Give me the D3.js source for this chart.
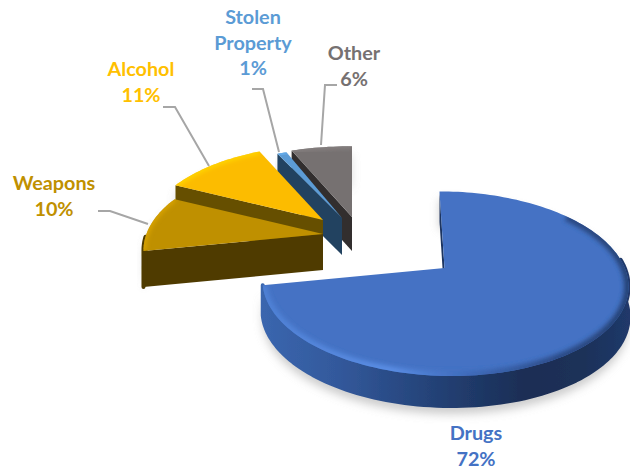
<!DOCTYPE html>
<html><head><meta charset="utf-8">
<script src="https://cdn.jsdelivr.net/npm/d3@7"></script>
<style>html,body{margin:0;padding:0;background:#fff}svg{display:block}</style>
</head><body><div id="c"></div>
<script>
// ---- data ----
const categories = ["Drugs","Weapons","Alcohol","Stolen Property","Other"];
const values = [72,10,11,1,6];
const labels = ["72%","10%","11%","1%","6%"];
// ---- style / layout ----
const topColors  = ["#4472C4","#BF9000","#FCBC00","#5B9BD5","#767171"];
const faceColors = ["#1C3461","#4F3B00","#665000","#234360","#302E2E"];
const rimColors  = ["url(#drugRim)","#4F3B00","#665000","#234360","#302E2E"];
const textColors = ["#4472C4","#BF9000","#FFC000","#5B9BD5","#767171"];
const apexX = [444.5,323,323,342,352];
const apexY = [268,234,220,218,217];
const radius= [0.985,0.965,0.96,0.9,0.91];
const widen = [1,1,1,1.07,1.14];
const depth = [30,36,38,37,34];
const W=630,H=468, k=0.17, lean=0.055, vanish=352;
const sx=d3.scaleLinear().domain([-1,1]).range([-183,183]);
const sy=d3.scaleLinear().domain([-1,1]).range([91,-91]);
const pieLayout=d3.pie().sort(null).value(d=>d)(values);

const svg=d3.select("#c").append("svg").attr("width",W).attr("height",H);
const defs=svg.append("defs");
[["soft",0.45],["blur2",2.2],["shadow",5]].forEach(([id,s])=>{
  defs.append("filter").attr("id",id).attr("x","-20%").attr("y","-20%").attr("width","140%").attr("height","140%")
    .append("feGaussianBlur").attr("stdDeviation",s);
});
function grad(id,x1,x2,stops){
  const g=defs.append("linearGradient").attr("id",id).attr("gradientUnits","userSpaceOnUse")
    .attr("x1",x1).attr("x2",x2).attr("y1",0).attr("y2",0);
  stops.forEach(([o,c])=>g.append("stop").attr("offset",o).attr("stop-color",c));
}
grad("drugRim",263,629,[[0,"#3A66AE"],[.2,"#33599C"],[.5,"#223F72"],[.72,"#1A2D54"],[.88,"#1B3159"],[1,"#20396A"]]);
grad("drugBevel",263,629,[[0,"#4F80D4"],[.35,"#5A8DE4"],[.55,"#3F6CBC"],[.8,"#2C4C88"],[1,"#274478"]]);

function P(i,theta,r,dz=0){
  const u=r*Math.sin(theta)*widen[i], v=r*Math.cos(theta), w=1+k*v;
  const s=radius[i], shear=lean*(apexX[i]-vanish)*v*-1*1.17;
  return [apexX[i]+s*(sx(u)+shear)/w, apexY[i]+s*sy(v)/w+dz];
}
const line=d3.line();
function arcPts(i,a0,a1,dz=0){
  const n=Math.max(4,Math.ceil((a1-a0)/0.03));
  return d3.range(n+1).map(j=>P(i,a0+(a1-a0)*j/n,1,dz));
}
function topPath(i){const p=pieLayout[i];return line([P(i,0,0),...arcPts(i,p.startAngle,p.endAngle)])+"Z";}
const frontLo=Math.PI*0.47, frontHi=Math.PI*1.49;
function rimPath(i){const p=pieLayout[i];
  const a0=Math.max(p.startAngle,frontLo), a1=Math.min(p.endAngle,frontHi);
  if(a1<=a0) return null;
  const a=arcPts(i,a0,a1), b=arcPts(i,a0,a1,depth[i]).reverse();
  return line([...a,...b])+"Z";}
function fullRim(i){const p=pieLayout[i];
  const a=arcPts(i,p.startAngle,p.endAngle), b=arcPts(i,p.startAngle,p.endAngle,depth[i]).reverse();
  return line([...a,...b])+"Z";}
function cutPath(i,ang){
  return line([P(i,0,0),P(i,ang,1),P(i,ang,1,depth[i]),P(i,0,0,depth[i])])+"Z";}

const g=svg.append("g").attr("filter","url(#soft)");
// painter's order: back slices first, Drugs last
[4,3,2,1,0].forEach(i=>{
  const p=pieLayout[i];
  g.append("path").attr("d",fullRim(i)).attr("transform","translate(0,8)")
    .attr("fill","#9a9a9a").attr("opacity",i===0?0.5:0.3).attr("filter","url(#shadow)");
  g.append("path").attr("d",cutPath(i,p.startAngle)).attr("fill",faceColors[i]);
  const rp=rimPath(i);
  if(rp) g.append("path").attr("d",rp).attr("fill",rimColors[i])
    .attr("stroke",rimColors[i]).attr("stroke-width",4).attr("stroke-linejoin","round");
  g.append("path").attr("d",topPath(i)).attr("fill",topColors[i]);
  defs.append("clipPath").attr("id","clip"+i).append("path").attr("d",topPath(i));
  const bevel=d3.color(topColors[i]).brighter(0.35).formatHex();
  const bevelStart=i===0?Math.PI*0.28:p.startAngle;
  g.append("g").attr("clip-path",`url(#clip${i})`)
   .append("path").attr("d",line(arcPts(i,bevelStart,p.endAngle)))
    .attr("fill","none").attr("stroke",i===0?"url(#drugBevel)":bevel)
    .attr("stroke-width",i===0?9:5).attr("filter","url(#blur2)");
});

// leader lines
const leaderGeom=[
  null,
  [[98,211],[110,211],[148,224]],
  [[163,107],[175,107],[209,166]],
  [[252,89],[263,89],[279,152]],
  [[337,85],[325,85],[321,145]]
];
svg.append("g").selectAll("path").data(leaderGeom.filter(Boolean)).join("path")
  .attr("d",d=>line(d)).attr("fill","none").attr("stroke","#A6A6A6").attr("stroke-width",2);

// labels
const labelAnchors=[[476,440],[54,190],[141,76],[253,24],[354,60]];
const lineH=25.5;
const font="Lato, Carlito, 'Open Sans', sans-serif";
categories.forEach((c,i)=>{
  const lines=(i===3?["Stolen","Property"]:[c]).concat(labels[i]);
  const t=svg.append("text").attr("font-family",font).attr("font-weight",700).attr("font-size",19.8)
    .attr("fill",textColors[i]).attr("text-anchor","middle");
  lines.forEach((s,j)=>t.append("tspan").attr("x",labelAnchors[i][0]).attr("y",labelAnchors[i][1]+j*lineH).text(s));
});
</script></body></html>
